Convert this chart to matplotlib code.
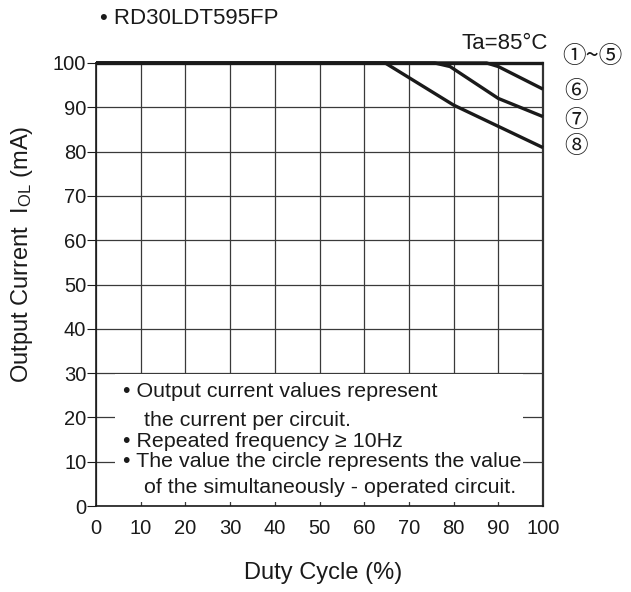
import matplotlib
matplotlib.use("Agg")
import matplotlib.pyplot as plt
from matplotlib.patches import Rectangle

plt.rcParams['font.family'] = ['Liberation Sans', 'Noto Sans CJK JP', 'DejaVu Sans']
plt.rcParams['mathtext.fontset'] = 'custom'
plt.rcParams['mathtext.rm'] = 'Liberation Sans'
plt.rcParams['mathtext.it'] = 'Liberation Sans:italic'

# ---- data ----
duty_1to5 = [0, 100]
cur_1to5 = [100, 100]
duty_6 = [0, 87.4, 90, 100]
cur_6 = [100, 100, 99.2, 94.1]
duty_7 = [0, 75.8, 79.2, 90, 100]
cur_7 = [100, 100, 99.2, 92.0, 87.9]
duty_8 = [0, 64.7, 80, 90, 100]
cur_8 = [100, 100, 90.5, 85.7, 80.9]

xticks = [0, 10, 20, 30, 40, 50, 60, 70, 80, 90, 100]
yticks = [0, 10, 20, 30, 40, 50, 60, 70, 80, 90, 100]
curve_labels = ['①~⑤', '⑥', '⑦', '⑧']
notes = ['• Output current values represent',
         ' the current per circuit.',
         '• Repeated frequency ≥ 10Hz',
         '• The value the circle represents the value',
         ' of the simultaneously - operated circuit.']

fig = plt.figure(figsize=(6.31, 5.92), dpi=100)
ax = fig.add_axes([96/631, 86/592, 447/631, 443/592])

ink = '#1a1a1a'
grid_c = '#3a3a3a'
fs_tick = 14.5
fs_lab = 17
fs_note = 15.4
fs_title = 16

ax.set_xlim(0, 100)
ax.set_ylim(0, 100)
ax.set_xticks(xticks)
ax.set_yticks(yticks)
ax.set_axisbelow(True)
ax.grid(True, color=grid_c, linewidth=0.9, zorder=0.5)

ax.tick_params(axis='x', direction='in', length=0, pad=9, labelsize=fs_tick, colors=ink)
ax.tick_params(axis='y', direction='out', length=6.5, width=0.8, pad=0.5,
               labelsize=fs_tick, colors=ink)

for s in ['left', 'bottom']:
    ax.spines[s].set_color(ink)
    ax.spines[s].set_linewidth(1.2)
ax.spines['right'].set_color('#333333')
ax.spines['right'].set_linewidth(1.6)
ax.spines['top'].set_color(ink)
ax.spines['top'].set_linewidth(1.2)

# white box hiding grid under the notes
ax.add_patch(Rectangle((4.2, 0.8), 91.3, 28.9, facecolor='white',
                       edgecolor='none', zorder=1.5))

lw = 2.4
for xs, ys in [(duty_1to5, cur_1to5), (duty_6, cur_6), (duty_7, cur_7), (duty_8, cur_8)]:
    ax.plot(xs, ys, color=ink, linewidth=lw, solid_capstyle='butt',
            solid_joinstyle='round', clip_on=False, zorder=3)

# curve labels near line ends
label_y = [101.4, 93.5, 87.1, 81.1]
label_x = [104.3, 104.8, 104.8, 104.8]
for lx, ly, t in zip(label_x, label_y, curve_labels):
    ax.text(lx, ly, t, fontsize=17, color=ink, ha='left', va='center', clip_on=False,
            family=['Noto Sans CJK JP', 'DejaVu Sans'])

ax.text(101.2, 104.4, 'Ta=85°C', fontsize=fs_title, color=ink, ha='right', va='center')
fig.text(100/631, 1 - 18.5/592, '• RD30LDT595FP', fontsize=fs_title, color=ink,
         ha='left', va='center')

note_x = [6.0, 9.3, 6.0, 6.0, 9.3]
note_y = [25.8, 19.4, 14.5, 10.0, 4.1]
for nx, ny, t in zip(note_x, note_y, notes):
    ax.text(nx, ny, t, fontsize=fs_note, color=ink, ha='left', va='center', zorder=4)

ax.text(0.507, -0.151, 'Duty Cycle (%)', fontsize=fs_lab, color=ink,
        ha='center', va='center', transform=ax.transAxes)
ax.text(-0.166, 0.567, 'Output Current  I$_{\\mathrm{OL}}$ (mA)', fontsize=fs_lab, color=ink,
        ha='center', va='center', rotation=90, transform=ax.transAxes)

fig.savefig('out.png', dpi=100)
